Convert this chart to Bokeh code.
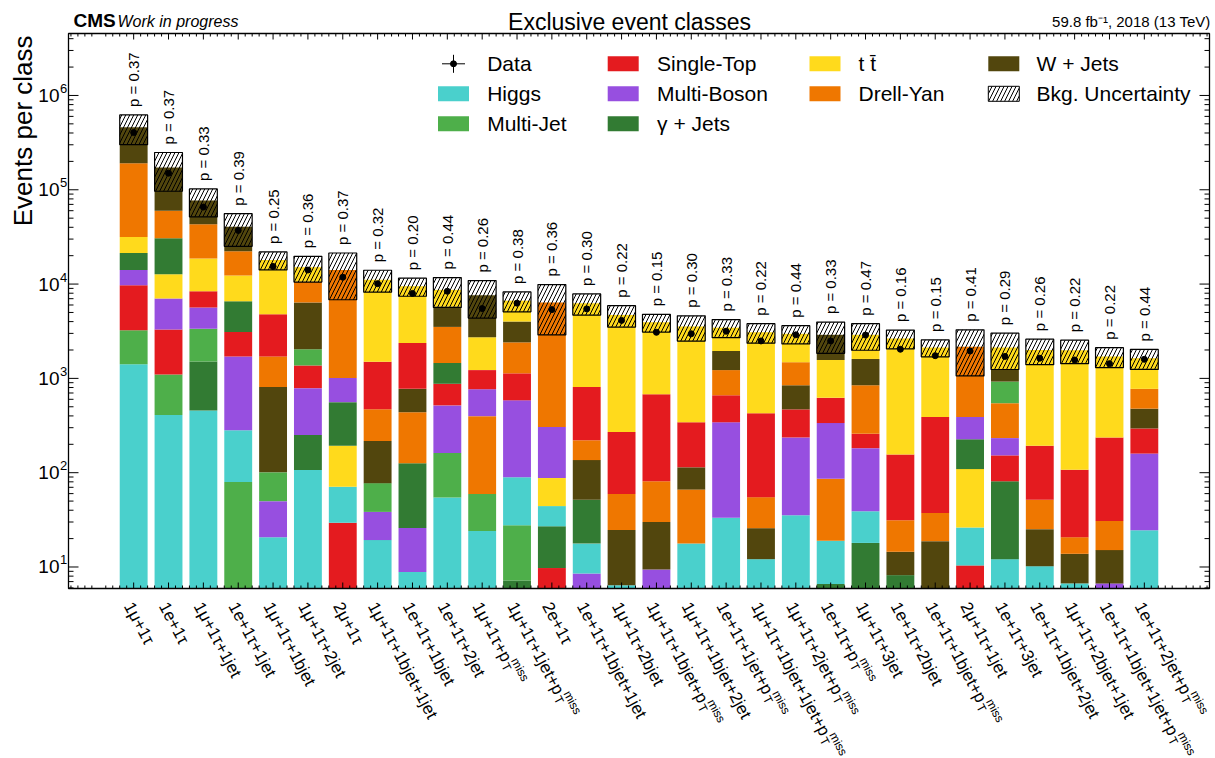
import math
from bokeh.plotting import figure
from bokeh.models import ColumnDataSource, Range1d
from bokeh.core.properties import value
from bokeh.embed import file_html
from bokeh.resources import INLINE

# ---------------- data ----------------
classes = [
    "1μ+1τ", "1e+1τ", "1μ+1τ+1jet", "1e+1τ+1jet", "1μ+1τ+1bjet", "1μ+1τ+2jet",
    "2μ+1τ", "1μ+1τ+1bjet+1jet", "1e+1τ+1bjet", "1e+1τ+2jet", "1μ+1τ+p_T^miss",
    "1μ+1τ+1jet+p_T^miss", "2e+1τ", "1e+1τ+1bjet+1jet", "1μ+1τ+2bjet",
    "1μ+1τ+1bjet+p_T^miss", "1μ+1τ+1bjet+2jet", "1e+1τ+1jet+p_T^miss",
    "1μ+1τ+1bjet+1jet+p_T^miss", "1μ+1τ+2jet+p_T^miss", "1e+1τ+p_T^miss",
    "1μ+1τ+3jet", "1e+1τ+2bjet", "1e+1τ+1bjet+p_T^miss", "2μ+1τ+1jet",
    "1e+1τ+3jet", "1e+1τ+1bjet+2jet", "1μ+1τ+2bjet+1jet",
    "1e+1τ+1bjet+1jet+p_T^miss", "1e+1τ+2jet+p_T^miss",
]
p_values = [0.37, 0.37, 0.33, 0.39, 0.25, 0.36, 0.37, 0.32, 0.20, 0.44,
            0.26, 0.38, 0.36, 0.30, 0.22, 0.15, 0.30, 0.33, 0.22, 0.44,
            0.33, 0.47, 0.16, 0.15, 0.41, 0.29, 0.26, 0.22, 0.22, 0.44]

higgs = [1409, 408, 457, 202, 20.7, 107, 41.5, 19.3, 8.85, 54.5,
         24.1, 61.5, 17.2, 9.17, 6.4, 0, 17.7, 33.3, 12.1, 35.4,
         12.4, 21, 0, 0, 15.9, 12.1, 10.2, 6.7, 0, 24.5]
multi_jet = [1837, 694, 1854, 79.6, 51, 665, 0, 39.1, 0, 107.7,
             35.4, 20.5, 0, 0, 0, 0, 0, 0, 0, 0,
             0, 0, 0, 0, 0, 379, 0, 0, 0, 0]
single_top = [6500, 2202, 2741, 1396, 3068, 583, 29.5, 1030, 1592, 359,
              456, 546, 9.75, 589, 210, 598, 228, 320, 372, 233,
              286, 76.5, 125, 353, 10.4, 71.5, 141, 86.6, 206, 135]
multi_boson = [4344, 3727, 2284, 1428, 29.2, 537, 449, 19.1, 17, 355,
               370, 496, 218, 8.53, 0, 9.4, 0, 309, 0, 201,
               250, 143, 0, 0, 164, 80, 0, 0, 6.7, 135]
gamma_jets = [7210, 17850, 1054, 3455, 0, 144, 367, 0, 100, 582,
              0, 7.2, 17.3, 34, 0, 0, 0, 0, 0, 0,
              6.6, 18, 8.2, 0, 117, 69, 0, 0, 0, 0]
ttbar = [10300, 5649, 10270, 5789, 13250, 4470, 122, 9611, 7123, 2940,
         1499, 2662, 43.5, 5470, 4430, 3260, 3206, 1502, 2654, 1487,
         944, 1290, 2496, 1737, 82.9, 871, 1810, 1879, 1473, 861]
drell_yan = [159900, 29560, 24340, 9900, 900, 4254, 13080, 253, 312, 2056,
             338, 1279, 6081, 84.6, 34.8, 51, 48.5, 562, 29.2, 639,
             67.1, 587, 16.8, 18.6, 1777, 313, 26.5, 6.9, 15.7, 297]
w_jets = [269500, 112400, 33800, 18200, 709, 4349, 0, 139, 337, 2235,
          4897, 1598, 0, 84.3, 18.3, 20.6, 47.8, 726, 13.7, 376,
          1331, 761, 6.3, 18.8, 0, 332, 15, 7.1, 8.4, 183]
data_counts = [404000, 150000, 65600, 37050, 15380, 14090, 11820, 10090, 7960, 8390,
               5500, 6280, 5360, 5455, 4120, 3080, 2972, 3162, 2494, 2897,
               2494, 2880, 2037, 1740, 1950, 1710, 1636, 1566, 1433, 1593]
bkg_unc = [160000, 76000, 25250, 15300, 3900, 4600, 7270, 2900, 2065, 3035,
           3260, 1590, 3500, 1590, 1200, 840, 1060, 750, 720, 650,
           1054, 910, 600, 433, 1105, 885, 605, 554, 408, 390]
# stacking order per class, bottom -> top
stack_order = [
    "H MJ ST MB GJ TT DY WJ", "H MJ ST MB TT GJ DY WJ", "H GJ MJ MB ST TT DY WJ",
    "MJ H MB ST GJ TT DY WJ", "H MB MJ WJ DY ST TT", "H GJ MB ST MJ WJ DY TT",
    "ST H TT GJ MB DY", "H MB MJ WJ DY ST TT", "H MB GJ DY WJ ST TT",
    "H MJ MB ST GJ DY WJ TT", "H MJ DY MB ST TT WJ", "GJ MJ H MB ST DY WJ TT",
    "ST GJ H TT MB DY", "MB H GJ WJ DY ST TT", "H WJ DY ST TT",
    "MB WJ DY ST TT", "H DY WJ ST TT", "H MB ST DY WJ TT",
    "H WJ DY ST TT", "H MB ST WJ DY TT", "GJ H DY MB ST TT WJ",
    "GJ H MB ST DY WJ TT", "GJ WJ DY ST TT", "WJ DY ST TT",
    "ST H TT GJ MB DY", "H GJ ST MB DY MJ WJ TT", "H WJ DY ST TT",
    "H WJ DY ST TT", "MB WJ DY ST TT", "H MB ST WJ DY TT",
]
y_tick_exponents = [1, 2, 3, 4, 5, 6]

proc_values = {"H": higgs, "MJ": multi_jet, "ST": single_top, "MB": multi_boson,
               "GJ": gamma_jets, "TT": ttbar, "DY": drell_yan, "WJ": w_jets}
proc_names = {"H": "Higgs", "MJ": "Multi-Jet", "ST": "Single-Top", "MB": "Multi-Boson",
              "GJ": "γ + Jets", "TT": "t t\u0304", "DY": "Drell-Yan", "WJ": "W + Jets"}
proc_colors = {"H": "#4AD0CC", "MJ": "#4EAF4A", "ST": "#E41B1F", "MB": "#974FE0",
               "GJ": "#327B33", "TT": "#FFDA1C", "DY": "#EF7700", "WJ": "#52460D"}

# ---------------- geometry (page pixels) ----------------
FONT = "Liberation Sans"
FIG_W, FIG_H = 1215, 758
FR_L, FR_R, FR_T, FR_B = 68, 1209, 33, 588        # plotting frame box
X0, X1 = -1.87, 30.87                              # data x at frame edges
LOG0, LOG1 = 0.772, 6.657                          # log10 y at frame edges
XPX = (FR_R - FR_L) / (X1 - X0)
YPX = (FR_B - FR_T) / (LOG1 - LOG0)
Y_LO, Y_HI = 10 ** LOG0, 10 ** LOG1


def fx(px):
    return X0 + (px - FR_L) / XPX


def fy(py):
    return 10 ** (LOG1 - (py - FR_T) / YPX)


p = figure(width=FIG_W, height=FIG_H, y_axis_type="log",
           x_range=Range1d(fx(0), fx(FIG_W)), y_range=Range1d(fy(FIG_H), fy(0)),
           output_backend="svg", toolbar_location=None,
           min_border_left=0, min_border_right=0, min_border_top=0, min_border_bottom=0)
p.xgrid.visible = False
p.ygrid.visible = False
p.xaxis.visible = False
p.yaxis.visible = False
p.outline_line_color = None
p.background_fill_color = "white"
p.border_fill_color = "white"

# ---------------- stacked bars ----------------
n = len(classes)
seg = dict(x=[], bottom=[], top=[], color=[])
totals = []
for i in range(n):
    cum = 0.0
    for k in stack_order[i].split():
        v = proc_values[k][i]
        if v <= 0:
            continue
        b = cum if cum > Y_LO else Y_LO
        cum += v
        if cum <= Y_LO:
            continue
        seg["x"].append(i)
        seg["bottom"].append(b)
        seg["top"].append(cum)
        seg["color"].append(proc_colors[k])
    totals.append(cum)

p.vbar(x="x", bottom="bottom", top="top", width=0.8, fill_color="color",
       line_color=None, source=ColumnDataSource(seg))

unc_src = ColumnDataSource(dict(
    x=list(range(n)),
    bottom=[t - u for t, u in zip(totals, bkg_unc)],
    top=[t + u for t, u in zip(totals, bkg_unc)],
))
p.vbar(x="x", bottom="bottom", top="top", width=0.8, fill_color=None,
       line_color="black", line_width=1.2, hatch_pattern="/", hatch_color="black",
       hatch_weight=1.0, hatch_scale=8, source=unc_src)

p.segment(x0=list(range(n)), x1=list(range(n)),
          y0=[d - math.sqrt(d) for d in data_counts],
          y1=[d + math.sqrt(d) for d in data_counts], line_color="black", line_width=1)
p.scatter(x=list(range(n)), y=data_counts, size=6, color="black")

# p-values
pv_y = [(t + u) * 10 ** (8 / YPX) for t, u in zip(totals, bkg_unc)]
p.text(x=list(range(n)), y=pv_y, text=["p = %.2f" % v for v in p_values],
       angle=90, angle_units="deg", text_align="left", text_baseline="middle",
       text_font=value(FONT), text_font_size="15px", text_color="black")

# ---------------- frame, ticks and y tick labels ----------------
p.quad(left=[X0], right=[X1], bottom=[Y_LO], top=[Y_HI], fill_color=None,
       line_color="black", line_width=1.3)

y_major = [10 ** e for e in y_tick_exponents]
y_minor = [m * 10 ** k for k in range(0, 7) for m in range(2, 10) if Y_LO < m * 10 ** k < Y_HI]
x_major = list(range(n))
x_minor = [round(-1.8 + 0.2 * j, 2) for j in range(164)]
x_minor = [v for v in x_minor if abs(v - round(v)) > 1e-6]
tk = dict(x0=[], x1=[], y0=[], y1=[])


def add_tick(x0, y0, x1, y1):
    tk["x0"].append(x0); tk["y0"].append(y0); tk["x1"].append(x1); tk["y1"].append(y1)


for xv, L in [(v, 6) for v in x_major] + [(v, 3) for v in x_minor]:
    add_tick(xv, Y_LO, xv, fy(FR_B - L))
    add_tick(xv, Y_HI, xv, fy(FR_T + L))
for yv, L in [(v, 10) for v in y_major] + [(v, 5) for v in y_minor]:
    add_tick(X0, yv, fx(FR_L + L), yv)
    add_tick(X1, yv, fx(FR_R - L), yv)
p.segment(x0="x0", y0="y0", x1="x1", y1="y1", source=ColumnDataSource(tk),
          line_color="black", line_width=1)

p.text(x=[fx(59)] * len(y_major), y=y_major, text=["10"] * len(y_major),
       text_align="right", text_baseline="middle", text_font=value(FONT),
       text_font_size="19px", text_color="black")
p.text(x=[fx(59.5)] * len(y_major), y=[v * 10 ** (7 / YPX) for v in y_major],
       text=[str(e) for e in y_tick_exponents], text_align="left", text_baseline="middle",
       text_font=value(FONT), text_font_size="13px", text_color="black")

# ---------------- x labels (rotated, with p_T^miss) ----------------
FS = 17
ANG = 62.0
ca, sa = math.cos(math.radians(ANG)), math.sin(math.radians(ANG))
CW = {"e": .556, "μ": .576, "τ": .47, "+": .584, "j": .222, "b": .556, "t": .278, "p": .556}


def est_width(s, size):
    return sum(CW.get(c, .556) for c in s) * size


main_l, sub_l, sup_l = (dict(x=[], y=[], text=[]) for _ in range(3))
for i, lab in enumerate(classes):
    axp = FR_L + (i - X0) * XPX
    ayp = FR_B + 12
    bxp = axp - 0.35 * FS * sa
    byp = ayp + 0.35 * FS * ca
    if lab.endswith("p_T^miss"):
        main = lab[:-len("_T^miss")]
        w = est_width(main, FS) + 0.5
        sx, sy = bxp + w * ca + 7.0 * sa, byp + w * sa - 7.0 * ca
        tx, ty = bxp + w * ca - 4.0 * sa, byp + w * sa + 4.0 * ca
        sup_l["x"].append(fx(sx)); sup_l["y"].append(fy(sy)); sup_l["text"].append("miss")
        sub_l["x"].append(fx(tx)); sub_l["y"].append(fy(ty)); sub_l["text"].append("T")
    else:
        main = lab
    main_l["x"].append(fx(bxp)); main_l["y"].append(fy(byp)); main_l["text"].append(main)

for src, size in ((main_l, "17px"), (sub_l, "12px"), (sup_l, "12px")):
    p.text(x="x", y="y", text="text", source=ColumnDataSource(src),
           angle=-ANG, angle_units="deg", text_align="left", text_baseline="alphabetic",
           text_font=value(FONT), text_font_size=size, text_color="black")

# ---------------- header & y label ----------------
def add_text(px, py, text, size, align="left", style="normal", angle=0):
    p.text(x=[fx(px)], y=[fy(py)], text=[text], text_font=value(FONT),
           text_font_size=size, text_align=align, text_baseline="middle",
           text_font_style=style, angle=angle, angle_units="deg", text_color="black")


add_text(73, 20, "CMS", "19px", style="bold")
add_text(117, 21, "Work in progress", "16px", style="italic")
add_text(629, 21, "Exclusive event classes", "23px", align="center")
add_text(1210, 21, "59.8 fb\u207b\u00b9, 2018 (13 TeV)", "15px", align="right")
add_text(22, 35, "Events per class", "26px", align="right", angle=90)

# ---------------- legend (drawn manually, 3/3/2/2 columns) ----------------
rows = [63.3, 93.3, 123.3]
sw_x = [453, 622.7, 824.5, 1003.3]
tx_x = [486.7, 656.6, 858, 1036]
legend_cols = [["Data", "H", "MJ"], ["ST", "MB", "GJ"], ["TT", "DY"], ["WJ", "UNC"]]

leg_text = dict(x=[], y=[], text=[])
for c, col in enumerate(legend_cols):
    for r, key in enumerate(col):
        cx, cy = sw_x[c], rows[r]
        if key == "Data":
            p.segment(x0=[fx(cx - 11.5)], x1=[fx(cx + 11.5)], y0=[fy(cy)], y1=[fy(cy)],
                      line_color="black", line_width=1)
            p.segment(x0=[fx(cx)], x1=[fx(cx)], y0=[fy(cy - 9)], y1=[fy(cy + 9)],
                      line_color="black", line_width=1)
            p.scatter(x=[fx(cx)], y=[fy(cy)], size=6, color="black")
            label = "Data"
        elif key == "UNC":
            p.rect(x=[fx(cx)], y=[fy(cy)], width=31, height=15, width_units="screen",
                   height_units="screen", fill_color="white", line_color="black",
                   line_width=1, hatch_pattern="/", hatch_color="black", hatch_scale=8,
                   hatch_weight=1.0)
            label = "Bkg. Uncertainty"
        else:
            p.rect(x=[fx(cx)], y=[fy(cy)], width=31, height=15, width_units="screen",
                   height_units="screen", fill_color=proc_colors[key], line_color=None)
            label = proc_names[key]
        leg_text["x"].append(fx(tx_x[c]))
        leg_text["y"].append(fy(cy))
        leg_text["text"].append(label)

p.text(x="x", y="y", text="text", source=ColumnDataSource(leg_text),
       text_font=value(FONT), text_font_size="21px", text_baseline="middle",
       text_align="left", text_color="black")

open("out.html", "w").write(file_html(p, INLINE))
